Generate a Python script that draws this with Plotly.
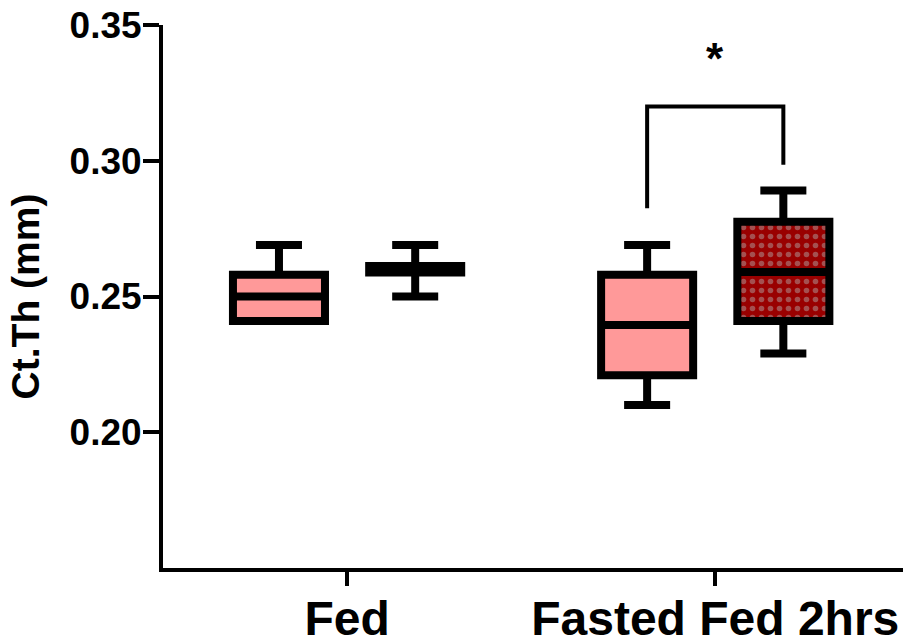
import plotly.graph_objects as go

categories = ["Fed", "Fasted Fed 2hrs"]
series_names = ["Fed", "Fasted Fed 2hrs"]

# box statistics per category: [Fed, Fasted Fed 2hrs]
pink_min = [0.241, 0.210]
pink_q1 = [0.241, 0.221]
pink_median = [0.250, 0.2395]
pink_q3 = [0.258, 0.258]
pink_max = [0.269, 0.269]

red_min = [0.250, 0.229]
red_q1 = [0.2588, 0.241]
red_median = [0.260, 0.259]
red_q3 = [0.2612, 0.2775]
red_max = [0.269, 0.289]

y_ticks = [0.20, 0.25, 0.30, 0.35]
y_tick_labels = ["0.20", "0.25", "0.30", "0.35"]

sig_label = "*"
bracket_top = 0.32

offset = 0.185
box_w = 0.25
pos = list(range(len(categories)))
pink_x = [p - offset for p in pos]
red_x = [p + offset for p in pos]

PINK = "#FF9999"
DARKRED = "#990000"
FONT = "Liberation Sans, Arial"

fig = go.Figure()

# patterned fill under dark-red boxes
fig.add_trace(go.Bar(
    x=red_x, y=[q3 - q1 for q1, q3 in zip(red_q1, red_q3)], base=red_q1,
    width=box_w, marker=dict(color=DARKRED, line=dict(width=0),
                             pattern=dict(shape=".", fgcolor="#b0a0a0", bgcolor=DARKRED,
                                          size=9, solidity=0.3)),
    showlegend=False, hoverinfo="skip"))

fig.add_trace(go.Box(
    x=pink_x, lowerfence=pink_min, q1=pink_q1, median=pink_median, q3=pink_q3,
    upperfence=pink_max, width=box_w, whiskerwidth=0.5,
    fillcolor=PINK, line=dict(color="black", width=8), name=series_names[0],
    showlegend=False, boxpoints=False))

fig.add_trace(go.Box(
    x=red_x, lowerfence=red_min, q1=red_q1, median=red_median, q3=red_q3,
    upperfence=red_max, width=box_w, whiskerwidth=0.5,
    fillcolor="rgba(0,0,0,0)", line=dict(color="black", width=8), name=series_names[1],
    showlegend=False, boxpoints=False))

# significance bracket between the two Fasted Fed 2hrs boxes
lx, rx = pink_x[1], red_x[1]
left_bottom = pink_max[1] + 0.0135
right_bottom = red_max[1] + 0.0095
fig.add_trace(go.Scatter(
    x=[lx, lx, rx, rx], y=[left_bottom, bracket_top, bracket_top, right_bottom],
    mode="lines", line=dict(color="black", width=4), showlegend=False, hoverinfo="skip"))
fig.add_annotation(x=(lx + rx) / 2, y=bracket_top + 0.0175, text=sig_label, showarrow=False,
                   font=dict(size=44, color="black", family=FONT, weight="bold"))

fig.update_layout(
    width=903, height=643,
    margin=dict(l=163, r=0, t=25, b=75),
    plot_bgcolor="white", paper_bgcolor="white",
    barmode="overlay", boxmode="overlay",
    showlegend=False,
)
fig.update_xaxes(
    range=[-0.5, 1.51], tickvals=pos, ticktext=categories, automargin=False,
    showline=True, linewidth=4, linecolor="black", ticks="outside", ticklen=14, tickwidth=4,
    tickcolor="black", showgrid=False, zeroline=False, ticklabelstandoff=-9,
    tickfont=dict(size=48, color="black", family=FONT, weight="bold"),
)
fig.update_yaxes(
    range=[0.15, 0.35], tickvals=y_ticks, ticktext=y_tick_labels, automargin=False,
    showline=True, linewidth=4, linecolor="black", ticks="outside", ticklen=16, tickwidth=4,
    tickcolor="black", showgrid=False, zeroline=False, ticklabelstandoff=-6,
    tickfont=dict(size=37, color="black", family=FONT, weight="bold"),
    title=dict(text="Ct.Th (mm)", standoff=19,
               font=dict(size=39, color="black", family=FONT, weight="bold")),
)

fig.write_html("out.html", config={"displayModeBar": False},
               post_script="document.body.style.margin='0';document.documentElement.style.margin='0';")
